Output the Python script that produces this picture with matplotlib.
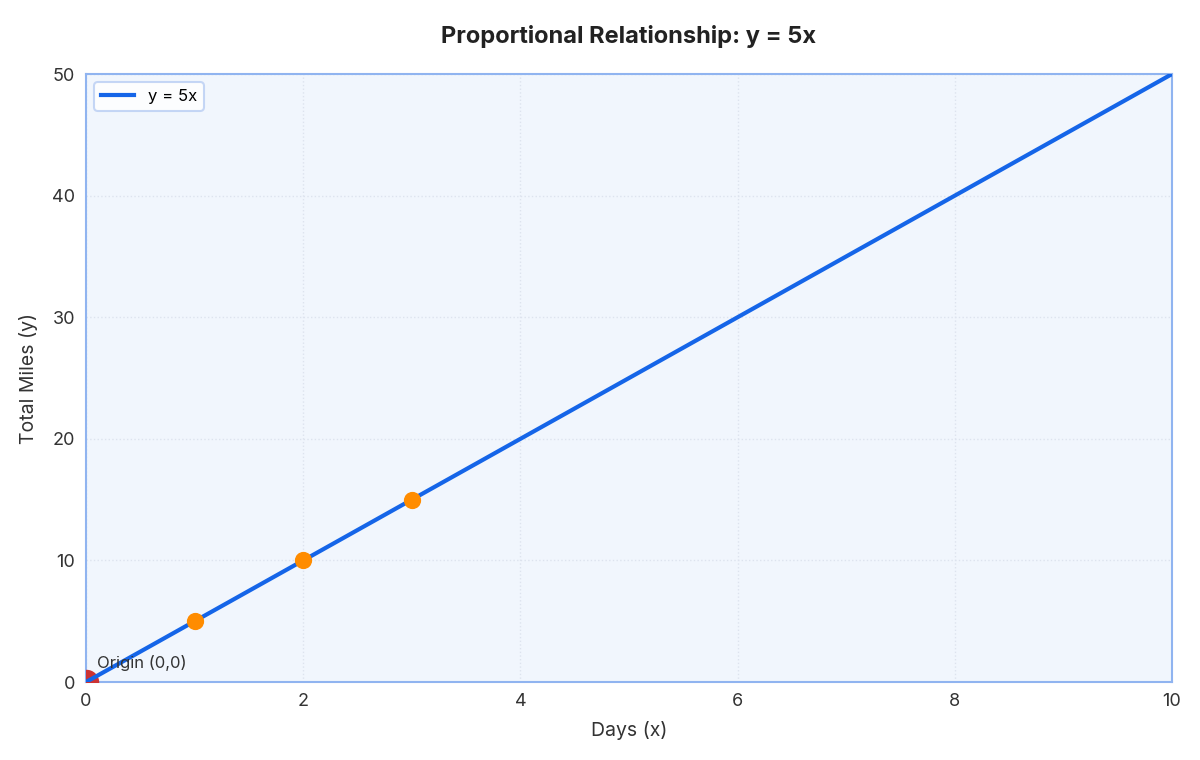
import matplotlib
matplotlib.use("Agg")
import matplotlib.pyplot as plt
import numpy as np

plt.rcParams['font.family'] = ['Inter', 'DejaVu Sans']

line_x = [0, 10]
line_y = [0, 50]
point_x = [1, 2, 3]
point_y = [5, 10, 15]
origin = (0, 0)
xticks = [0, 2, 4, 6, 8, 10]
yticks = [0, 10, 20, 30, 40, 50]

fig = plt.figure(figsize=(12, 7.6), dpi=100)
ax = fig.add_axes([0.0717, 0.1026, 0.905, 0.8])
ax.set_facecolor('#f1f6fd')
ax.plot(line_x, line_y, color='#1565e8', lw=3, label='y = 5x', zorder=3)
ax.scatter(point_x, point_y, s=130, color='#ff8c00', zorder=4)
ax.scatter([origin[0]], [origin[1]], s=300, color='#cc3333', zorder=2.6, clip_on=True)
ax.annotate('Origin (0,0)', xy=origin, xytext=(8, 10), textcoords='offset points',
            fontsize=12, color='#333333')
ax.set_xlim(0, 10)
ax.set_ylim(0, 50)
ax.set_xticks(xticks)
ax.set_yticks(yticks)
ax.grid(True, color='#dde3ee', linestyle=':', linewidth=1)
for s in ax.spines.values():
    s.set_color('#90b4f0')
    s.set_linewidth(1.5)
ax.tick_params(labelsize=13, colors='#333333', length=0, pad=8)
ax.set_xlabel('Days (x)', fontsize=14, color='#333333', labelpad=8)
ax.set_ylabel('Total Miles (y)', fontsize=14, color='#333333', labelpad=10)
ax.set_title('Proportional Relationship: y = 5x', fontsize=17, fontweight='bold',
             color='#222222', pad=22)
leg = ax.legend(loc='upper left', fontsize=12, frameon=True, fancybox=True)
leg.get_frame().set_edgecolor('#b8cdf3')
leg.get_frame().set_linewidth(1.5)
fig.savefig('out.png', dpi=100)
